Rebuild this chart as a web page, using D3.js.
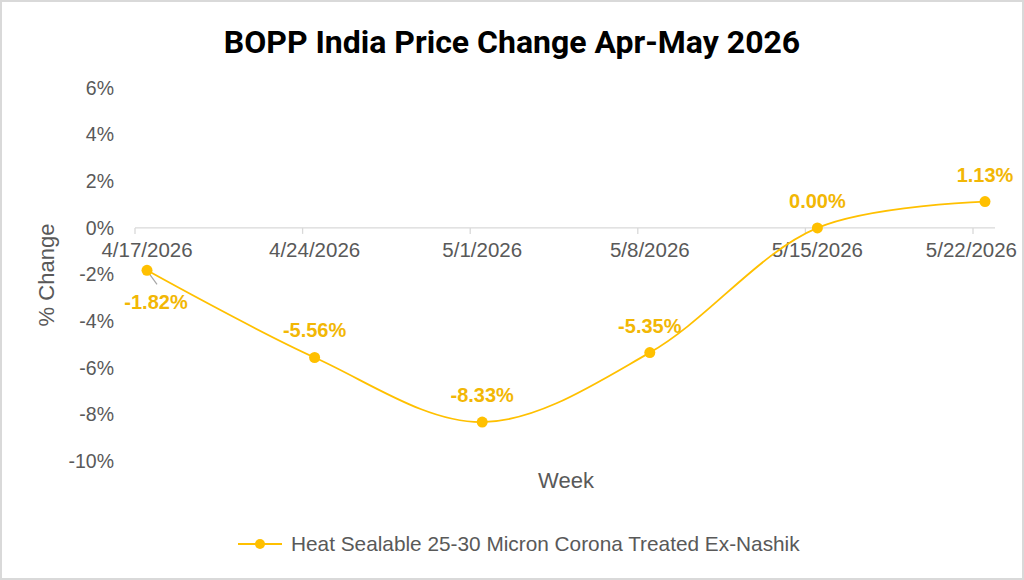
<!DOCTYPE html>
<html>
<head>
<meta charset="utf-8">
<script src="https://cdn.jsdelivr.net/npm/d3@7"></script>
<style>
  body { margin: 0; background: #fff; }
  text { font-family: "Liberation Sans", Arial, sans-serif; }
</style>
</head>
<body>
<div id="chart"></div>
<script>
// data
var weeks = ["4/17/2026", "4/24/2026", "5/1/2026", "5/8/2026", "5/15/2026", "5/22/2026"];
var changes = [-1.82, -5.56, -8.33, -5.35, 0.00, 1.13];
var yTicks = [6, 4, 2, 0, -2, -4, -6, -8, -10];
var seriesName = "Heat Sealable 25-30 Micron Corona Treated Ex-Nashik";

var width = 1024, height = 580;
var gold = "#FFC000", labelGold = "#F2B705", grey = "#595959";

var svg = d3.select("#chart").append("svg")
    .attr("width", width)
    .attr("height", height);

// outer frame
svg.append("rect")
    .attr("x", 1).attr("y", 1)
    .attr("width", width - 2).attr("height", height - 2)
    .attr("fill", "#fff")
    .attr("stroke", "#d9d9d9")
    .attr("stroke-width", 2);

svg.append("text")
    .attr("x", 512)
    .attr("y", 53)
    .attr("text-anchor", "middle")
    .style("font-family", "'Liberation Sans Narrow', 'Roboto', sans-serif")
    .style("font-weight", "bold")
    .style("font-size", "32px")
    .style("fill", "#000")
    .text("BOPP India Price Change Apr-May 2026");

var x = d3.scalePoint()
    .domain(weeks)
    .range([147, 985]);

var y = d3.scaleLinear()
    .domain([-10, 6])
    .range([461, 88]);

// y tick labels (no axis line)
svg.selectAll(".ytick")
    .data(yTicks).enter()
    .append("text")
    .attr("class", "ytick")
    .attr("x", 114)
    .attr("y", function(d) { return y(d); })
    .attr("dy", "0.35em")
    .attr("text-anchor", "end")
    .style("font-size", "19.5px")
    .style("fill", grey)
    .text(function(d) { return d + "%"; });

// horizontal axis at 0%
svg.append("line")
    .attr("x1", 135).attr("x2", 995)
    .attr("y1", y(0)).attr("y2", y(0))
    .attr("stroke", "#d9d9d9")
    .attr("stroke-width", 1.3);

svg.selectAll(".xtickmark")
    .data(weeks).enter()
    .append("line")
    .attr("class", "xtickmark")
    .attr("x1", function(d) { return x(d) - 12; })
    .attr("x2", function(d) { return x(d) - 12; })
    .attr("y1", y(0)).attr("y2", y(0) + 6)
    .attr("stroke", "#d9d9d9")
    .attr("stroke-width", 1.3);

// last label is pushed left so it stays inside the frame
var last = weeks.length - 1;
svg.selectAll(".xtick")
    .data(weeks).enter()
    .append("text")
    .attr("class", "xtick")
    .attr("x", function(d, i) { return i === last ? 1017 : x(d); })
    .attr("y", y(0) + 29)
    .attr("text-anchor", function(d, i) { return i === last ? "end" : "middle"; })
    .style("font-size", "20.5px")
    .style("fill", grey)
    .text(function(d) { return d; });

// axis titles
svg.append("text")
    .attr("transform", "translate(54,275) rotate(-90)")
    .attr("text-anchor", "middle")
    .style("font-size", "22px")
    .style("fill", grey)
    .text("% Change");

svg.append("text")
    .attr("x", 566)
    .attr("y", 488)
    .attr("text-anchor", "middle")
    .style("font-size", "22px")
    .style("fill", grey)
    .text("Week");

// series
var line = d3.line()
    .x(function(d, i) { return x(weeks[i]); })
    .y(function(d) { return y(d); })
    .curve(d3.curveCatmullRom.alpha(0.5));

svg.append("path")
    .datum(changes)
    .attr("d", line)
    .attr("fill", "none")
    .attr("stroke", gold)
    .attr("stroke-width", 1.8);

// leader line for first label
svg.append("line")
    .attr("x1", x(weeks[0]) + 2).attr("y1", y(changes[0]) + 3)
    .attr("x2", x(weeks[0]) + 10).attr("y2", y(changes[0]) + 14)
    .attr("stroke", "#a6a6a6")
    .attr("stroke-width", 1.2);

svg.selectAll(".pt")
    .data(changes).enter()
    .append("circle")
    .attr("class", "pt")
    .attr("cx", function(d, i) { return x(weeks[i]); })
    .attr("cy", function(d) { return y(d); })
    .attr("r", 5.5)
    .attr("fill", gold);

svg.selectAll(".lbl")
    .data(changes).enter()
    .append("text")
    .attr("class", "lbl")
    .attr("x", function(d, i) { return x(weeks[i]) + (i === 0 ? 9 : 0); })
    .attr("y", function(d, i) { return y(d) + (i === 0 ? 39 : -20); })
    .attr("text-anchor", "middle")
    .style("font-size", "20px")
    .style("font-weight", "bold")
    .style("fill", labelGold)
    .text(function(d) { return d.toFixed(2) + "%"; });

// legend
var lg = svg.append("g").attr("transform", "translate(238,544)");
lg.append("line")
    .attr("x1", 0).attr("x2", 44)
    .attr("stroke", gold).attr("stroke-width", 1.8);
lg.append("circle")
    .attr("cx", 22).attr("r", 5)
    .attr("fill", gold);
lg.append("text")
    .attr("x", 53)
    .attr("dy", "0.35em")
    .style("font-size", "20.8px")
    .style("fill", grey)
    .text(seriesName);
</script>
</body>
</html>
